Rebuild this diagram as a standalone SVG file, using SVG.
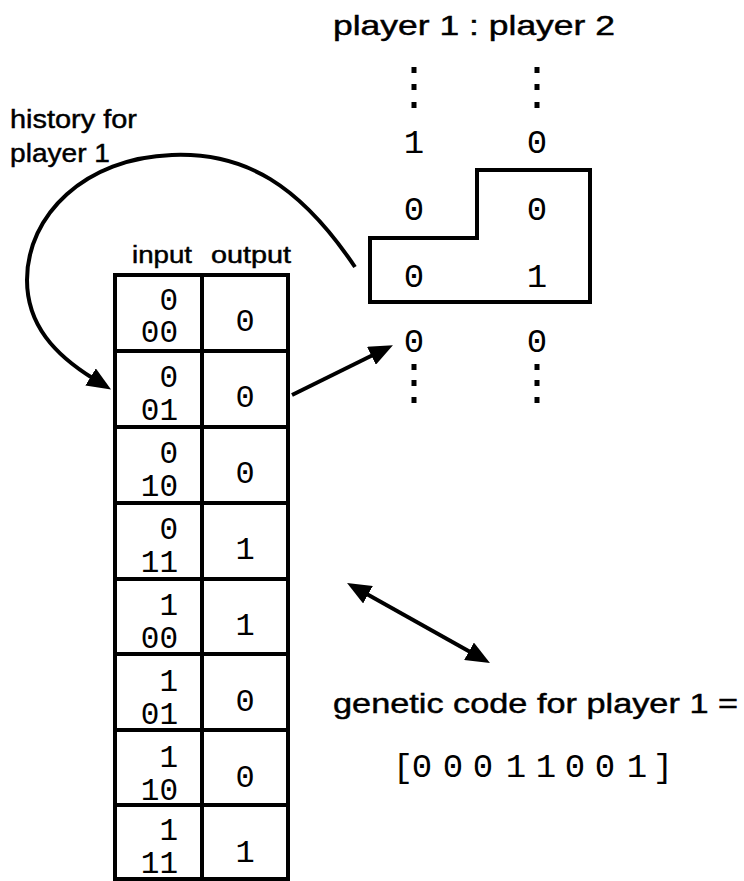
<svg xmlns="http://www.w3.org/2000/svg" width="744" height="881" viewBox="0 0 744 881">
<style>
.lbl{font-family:"Liberation Sans",Arial,sans-serif;fill:#000;stroke:#000;stroke-width:0.45}
.mono{font-family:"Liberation Mono","Courier New",monospace;fill:#000}
.tin{font-size:31px;text-anchor:end}
.tout{font-size:32px;text-anchor:middle}
.hist{font-size:34px;text-anchor:middle}
.line{fill:none;stroke:#000;stroke-width:4}
.conn{fill:none;stroke:#000;stroke-width:4}
</style>
<defs>
<marker id="ah" viewBox="0 0 24 20" markerWidth="24" markerHeight="20" refX="4" refY="10" orient="auto-start-reverse" markerUnits="userSpaceOnUse">
<path d="M0,0 L24,10 L0,20 z" fill="#000"/>
</marker>
</defs>
<rect width="744" height="881" fill="#fff"/>

<g id="title">
<text class="lbl" x="333" y="35" font-size="28" textLength="282" lengthAdjust="spacingAndGlyphs">player 1 : player 2</text>
</g>
<g id="history-label">
<text class="lbl" x="10" y="128" font-size="26" textLength="127" lengthAdjust="spacingAndGlyphs">history for</text>
<text class="lbl" x="10" y="162" font-size="26" textLength="100" lengthAdjust="spacingAndGlyphs">player 1</text>
</g>

<g id="history">
<g fill="#000">
<rect x="411.5" y="67" width="5" height="6"/><rect x="411.5" y="84" width="5" height="6"/><rect x="411.5" y="102" width="5" height="6"/>
<rect x="534.5" y="67" width="5" height="6"/><rect x="534.5" y="84" width="5" height="6"/><rect x="534.5" y="102" width="5" height="6"/>
<rect x="411.5" y="364" width="5" height="6"/><rect x="411.5" y="380" width="5" height="6"/><rect x="411.5" y="397" width="5" height="6"/>
<rect x="534.5" y="364" width="5" height="6"/><rect x="534.5" y="380" width="5" height="6"/><rect x="534.5" y="397" width="5" height="6"/>
</g>
<text class="mono hist" x="414" y="153">1</text><text class="mono hist" x="537" y="153">0</text>
<text class="mono hist" x="414" y="220">0</text><text class="mono hist" x="537" y="220">0</text>
<text class="mono hist" x="414" y="287">0</text><text class="mono hist" x="537" y="287">1</text>
<text class="mono hist" x="414" y="352">0</text><text class="mono hist" x="537" y="352">0</text>
</g>
<g id="window">
<polygon class="line" points="477,170 590,170 590,302 370,302 370,238 477,238"/>
</g>

<g id="table">
<text class="lbl" x="132" y="263" font-size="23" textLength="60" lengthAdjust="spacingAndGlyphs">input</text>
<text class="lbl" x="211" y="263" font-size="23" textLength="80" lengthAdjust="spacingAndGlyphs">output</text>
<rect class="line" x="115" y="275" width="173" height="604"/>
<path class="line" d="M202,275 V879 M115,351 H288 M115,427 H288 M115,503 H288 M115,579 H288 M115,654 H288 M115,730 H288 M115,805 H288"/>
</g>
<g id="row1"><text class="mono tin"><tspan x="178" y="310">0</tspan><tspan x="178" y="342">00</tspan></text><text class="mono tout" x="245" y="331">0</text></g>
<g id="row2"><text class="mono tin"><tspan x="178" y="387">0</tspan><tspan x="178" y="420">01</tspan></text><text class="mono tout" x="245" y="407">0</text></g>
<g id="row3"><text class="mono tin"><tspan x="178" y="463">0</tspan><tspan x="178" y="496">10</tspan></text><text class="mono tout" x="245" y="483">0</text></g>
<g id="row4"><text class="mono tin"><tspan x="178" y="539">0</tspan><tspan x="178" y="572">11</tspan></text><text class="mono tout" x="245" y="559">1</text></g>
<g id="row5"><text class="mono tin"><tspan x="178" y="615">1</tspan><tspan x="178" y="648">00</tspan></text><text class="mono tout" x="245" y="635">1</text></g>
<g id="row6"><text class="mono tin"><tspan x="178" y="691">1</tspan><tspan x="178" y="724">01</tspan></text><text class="mono tout" x="245" y="711">0</text></g>
<g id="row7"><text class="mono tin"><tspan x="178" y="767">1</tspan><tspan x="178" y="800">10</tspan></text><text class="mono tout" x="245" y="787">0</text></g>
<g id="row8"><text class="mono tin"><tspan x="178" y="840">1</tspan><tspan x="178" y="873">11</tspan></text><text class="mono tout" x="245" y="862">1</text></g>

<g id="genetic-code">
<text class="lbl" x="333" y="713" font-size="27" textLength="405" lengthAdjust="spacingAndGlyphs">genetic code for player 1 =</text>
<text class="mono" font-size="34" text-anchor="middle" x="403 422 453 483 516 546 575 605 637 663" y="777">[00011001]</text>
</g>

<g id="connectors">
<path class="conn" d="M355,267 C300,185 245,152 172,155 C85,158 27,215 27,280 C27,325 55,355 94,379" marker-end="url(#ah)"/>
<path class="conn" d="M292,395 L375,354" marker-end="url(#ah)"/>
<path class="conn" d="M364.5,592.8 L472.5,653.2" marker-start="url(#ah)" marker-end="url(#ah)"/>
</g>
</svg>
